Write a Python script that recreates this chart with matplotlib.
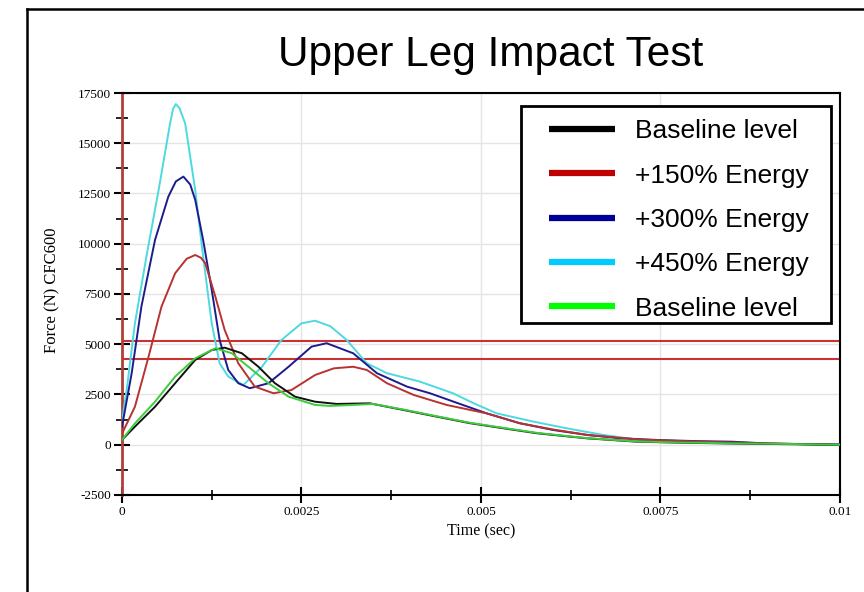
import numpy as np
import matplotlib
matplotlib.use('Agg')
import matplotlib.pyplot as plt
from matplotlib.lines import Line2D
from matplotlib.patches import Rectangle

# time in ms, force in N
t_black = [0, 0.18, 0.46, 0.74, 1.02, 1.25, 1.43, 1.67, 1.90, 2.13, 2.41, 2.69, 2.99, 3.45, 3.92,
           4.38, 4.85, 5.31, 5.78, 6.47, 7.17, 7.8, 8.5, 9.2, 10.0]
f_black = [240, 900, 1890, 3060, 4220, 4710, 4830, 4550, 3880, 3060, 2390, 2140, 2030, 2060, 1730,
           1400, 1070, 820, 570, 320, 150, 100, 60, 30, 0]

t_green = [0, 0.18, 0.46, 0.74, 1.02, 1.30, 1.53, 1.76, 2.04, 2.32, 2.69, 2.9, 3.22, 3.50, 3.92,
           4.38, 4.85, 5.31, 5.78, 6.47, 7.17, 7.8, 8.5, 9.2, 10.0]
f_green = [240, 1060, 2140, 3390, 4300, 4800, 4550, 3880, 3060, 2390, 1980, 1930, 1980, 2030, 1750,
           1420, 1090, 840, 590, 330, 160, 110, 70, 40, 0]

t_red = [0, 0.18, 0.37, 0.55, 0.74, 0.90, 1.02, 1.10, 1.16, 1.30, 1.43, 1.62, 1.85, 2.11, 2.36, 2.69,
         2.95, 3.22, 3.41, 3.69, 4.06, 4.52, 5.08, 5.54, 6.0, 6.5, 7.2, 7.8, 8.5, 9.2, 10.0]
f_red = [550, 1890, 4380, 6870, 8530, 9250, 9440, 9300, 9030, 7370, 5710, 4050, 2890, 2560, 2720, 3470,
         3800, 3880, 3720, 3060, 2480, 1980, 1560, 1070, 760, 480, 260, 180, 110, 50, 0]

t_blue = [0, 0.135, 0.27, 0.46, 0.645, 0.75, 0.855, 0.95, 1.02, 1.13, 1.25, 1.36, 1.48, 1.62, 1.78,
          2.04, 2.32, 2.64, 2.85, 3.22, 3.55, 3.97, 4.29, 4.62, 5.08, 5.54, 6.01, 6.47, 6.94, 7.5,
          8.0, 8.5, 9.0, 10.0]
f_blue = [900, 3560, 6870, 10190, 12340, 13100, 13340, 12950, 12180, 10190, 7700, 5210, 3720, 3060, 2810,
          3060, 3880, 4880, 5050, 4550, 3560, 2890, 2560, 2140, 1560, 1070, 730, 490, 320, 230,
          180, 150, 60, 0]

t_cyan = [0, 0.065, 0.18, 0.34, 0.51, 0.67, 0.71, 0.75, 0.80, 0.88, 1.02, 1.13, 1.25, 1.36, 1.48, 1.69,
          1.95, 2.22, 2.50, 2.69, 2.90, 3.13, 3.41, 3.69, 4.15, 4.61, 4.90, 5.22, 5.73, 6.19, 6.70,
          7.21, 7.8, 8.5, 9.2, 10.0]
f_cyan = [1180, 2720, 6040, 9360, 12670, 15990, 16700, 16950, 16750, 15990, 12670, 9360, 6040, 4050, 3390, 2970,
          3880, 5210, 6040, 6170, 5900, 5210, 4050, 3560, 3140, 2560, 2060, 1560, 1150, 820, 490,
          240, 170, 90, 40, 0]

limits = [5160, 4260]

labels = ['Baseline level', '+150% Energy', '+300% Energy', '+450% Energy', 'Baseline level']
legend_colors = ['#000000', '#C00000', '#000099', '#00CCFF', '#00FF00']

fig = plt.figure(figsize=(8.64, 5.92), dpi=100)
ax = fig.add_axes([0.1412, 0.1639, 0.831, 0.679])

ax.grid(True, color='#e4e4e4', lw=1)
ax.set_axisbelow(True)

for lim in limits:
    ax.axhline(lim, color='#C83232', lw=1.5, zorder=2)

ax.plot(np.array(t_cyan) / 1000, f_cyan, color='#4DD9E0', lw=1.4, zorder=3)
ax.plot(np.array(t_blue) / 1000, f_blue, color='#1C1C8C', lw=1.4, zorder=3)
ax.plot(np.array(t_red) / 1000, f_red, color='#B83232', lw=1.4, zorder=3)
ax.plot(np.array(t_black) / 1000, f_black, color='#111111', lw=1.4, zorder=3)
ax.plot(np.array(t_green) / 1000, f_green, color='#3DCC3D', lw=1.4, zorder=3)

ax.set_xlim(0, 0.01)
ax.set_ylim(-2500, 17500)
ax.set_xticks([0, 0.0025, 0.005, 0.0075, 0.01])
ax.set_xticklabels(['0', '0.0025', '0.005', '0.0075', '0.01'])
ax.set_xticks([0.00125, 0.00375, 0.00625, 0.00875], minor=True)
ax.set_yticks(np.arange(-2500, 17501, 2500))
ax.set_yticklabels([str(v) for v in range(-2500, 17501, 2500)])
ax.set_yticks(np.arange(-1250, 17500, 2500), minor=True)

serif = 'Liberation Serif'
for lab in ax.get_xticklabels() + ax.get_yticklabels():
    lab.set_fontfamily(serif)
    lab.set_fontsize(9.5)
ax.tick_params(which='major', direction='inout', length=12, width=1.5, color='black', pad=2)
ax.tick_params(which='minor', direction='inout', length=7, width=1.2, color='black')
ax.tick_params(axis='y', which='minor', length=8)

for side in ['top', 'right', 'bottom']:
    ax.spines[side].set_color('black')
    ax.spines[side].set_linewidth(1.5)
ax.spines['left'].set_color('#B0403A')
ax.spines['left'].set_linewidth(2)

ax.set_xlabel('Time (sec)', fontfamily=serif, fontsize=11.5)
ax.set_ylabel('Force (N) CFC600', fontfamily=serif, fontsize=12)
ax.xaxis.set_label_coords(0.5, -0.07)
ax.yaxis.set_label_coords(-0.086, 0.51)

# legend box drawn by hand so the padding can match
fig.add_artist(Rectangle((521 / 864, 1 - 323 / 592), 310 / 864, 217 / 592, transform=fig.transFigure,
                         facecolor='white', edgecolor='black', lw=2, zorder=4))
handles = [Line2D([], [], color=c, lw=4.5, solid_capstyle='butt') for c in legend_colors]
leg = fig.legend(handles, labels, loc='center left', bbox_to_anchor=(549 / 864, 1 - 220 / 592),
                 bbox_transform=fig.transFigure,
                 prop={'family': 'Liberation Sans', 'size': 19}, frameon=False,
                 handlelength=2.5, handletextpad=0.76, labelspacing=0.77, borderpad=0, borderaxespad=0)
leg.set_zorder(5)

fig.text(0.568, 0.907, 'Upper Leg Impact Test', ha='center', va='center',
         fontsize=30.5, fontfamily='Liberation Sans')

# outer frame
fig.add_artist(Line2D([0.03125, 0.03125], [0, 0.985], color='black', lw=1.8, transform=fig.transFigure))
fig.add_artist(Line2D([0.03125, 1], [0.985, 0.985], color='black', lw=1.8, transform=fig.transFigure))

fig.savefig('out.png', dpi=100)
